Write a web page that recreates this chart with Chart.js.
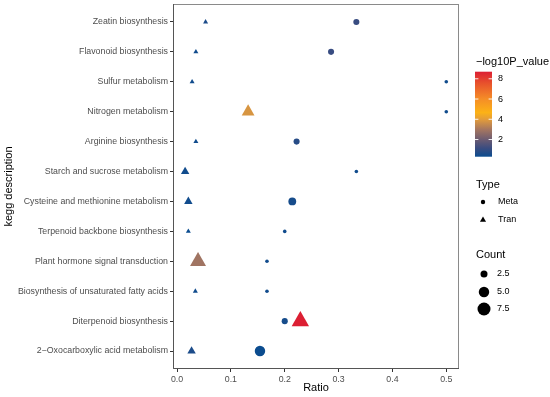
<!DOCTYPE html>
<html>
<head>
<meta charset="utf-8">
<script src="https://cdn.jsdelivr.net/npm/chart.js@4"></script>
<style>
    html, body { margin: 0; padding: 0; background: #ffffff; }
    #wrap { width: 550px; height: 397px; }
</style>
</head>
<body>
<div id="wrap"><canvas id="keggChart" width="550" height="397"></canvas></div>
<script>
// =====================================
// Data
// =====================================
const categories = [
    "Zeatin biosynthesis",
    "Flavonoid biosynthesis",
    "Sulfur metabolism",
    "Nitrogen metabolism",
    "Arginine biosynthesis",
    "Starch and sucrose metabolism",
    "Cysteine and methionine metabolism",
    "Terpenoid backbone biosynthesis",
    "Plant hormone signal transduction",
    "Biosynthesis of unsaturated fatty acids",
    "Diterpenoid biosynthesis",
    "2\u2212Oxocarboxylic acid metabolism"
];

// Meta (circles)
const metaRatio = [0.333, 0.286, 0.5, 0.5, 0.222, 0.333, 0.214, 0.2, 0.167, 0.167, 0.2, 0.154];
const metaCount = [2, 2, 1, 1, 2, 1, 3, 1, 1, 1, 2, 5];
const metaLogP  = [1.1, 1.1, 0.4, 0.4, 0.8, 0.4, 0.5, 0.4, 0.4, 0.4, 0.5, 0.3];

// Tran (triangles)
const tranRatio = [0.053, 0.035, 0.028, 0.132, 0.035, 0.015, 0.021, 0.021, 0.039, 0.034, 0.229, 0.027];
const tranCount = [1, 1, 1, 4, 1, 2, 2, 1, 6, 1, 7, 2];
const tranLogP  = [0.6, 0.4, 0.4, 3.8, 0.4, 0.4, 0.4, 0.3, 2.9, 0.4, 8.7, 0.6];

const xTicks = [0.0, 0.1, 0.2, 0.3, 0.4, 0.5];
const colourTicks = [2, 4, 6, 8];
const countTicks = [2.5, 5.0, 7.5];
const typeLabels = ["Meta", "Tran"];

// =====================================
// Styling helpers
// =====================================
const FONT = "'Liberation Sans', Arial, Helvetica, sans-serif";
const allLogP = metaLogP.concat(tranLogP);
const vMin = Math.min(...allLogP);
const vMax = Math.max(...allLogP);

// colour stops along the colourbar (fraction 0 = bottom, 1 = top)
const colourStops = [
    [0.00, "#0b4c8f"],
    [0.10, "#3a4c80"],
    [0.20, "#6b5b72"],
    [0.32, "#a57660"],
    [0.44, "#e39c3a"],
    [0.52, "#fcb216"],
    [0.68, "#f58d27"],
    [0.86, "#e8532c"],
    [1.00, "#dc1f33"]
];

function hexToRgb(h) {
    return [parseInt(h.slice(1, 3), 16), parseInt(h.slice(3, 5), 16), parseInt(h.slice(5, 7), 16)];
}

function colourFor(v) {
    const f = Math.max(0, Math.min(1, (v - vMin) / (vMax - vMin)));
    for (let i = 1; i < colourStops.length; i++) {
        const [f1, c1] = colourStops[i];
        const [f0, c0] = colourStops[i - 1];
        if (f <= f1) {
            const t = (f - f0) / (f1 - f0);
            const a = hexToRgb(c0), b = hexToRgb(c1);
            const m = a.map((x, k) => Math.round(x + (b[k] - x) * t));
            return `rgb(${m[0]},${m[1]},${m[2]})`;
        }
    }
    return colourStops[colourStops.length - 1][1];
}

// point size: area grows linearly with count
function radiusFor(count) {
    return Math.sqrt(Math.max(2, 6 * count - 2.75));
}
const TRI_SCALE = 1.6;

const metaPoints = metaRatio.map((r, i) => ({ x: r, y: i }));
const tranPoints = tranRatio.map((r, i) => ({ x: r, y: i }));

// =====================================
// Panel border + legends plugin
// =====================================
const panelAndLegends = {
    id: "panelAndLegends",
    afterDraw(chart) {
        const ctx = chart.ctx;
        const a = chart.chartArea;
        ctx.save();

        // panel border
        ctx.strokeStyle = "#8a8a8a";
        ctx.lineWidth = 1;
        ctx.strokeRect(Math.round(a.left) + 0.5, Math.round(a.top) + 0.5,
                       Math.round(a.right - a.left) - 1, Math.round(a.bottom - a.top) - 1);
        ctx.strokeStyle = "#555555";
        ctx.beginPath();
        ctx.moveTo(Math.round(a.left) + 0.5, Math.round(a.top));
        ctx.lineTo(Math.round(a.left) + 0.5, Math.round(a.bottom) - 0.5);
        ctx.lineTo(Math.round(a.right), Math.round(a.bottom) - 0.5);
        ctx.stroke();

        ctx.fillStyle = "#000000";
        ctx.textBaseline = "middle";
        ctx.textAlign = "left";

        // ---- colourbar ----
        const lx = 476;
        ctx.font = `11px ${FONT}`;
        ctx.fillText("\u2212log10P_value", lx, 62);

        const barX = 475, barW = 17, barTop = 71.7, barBot = 156.7;
        const grad = ctx.createLinearGradient(0, barBot, 0, barTop);
        colourStops.forEach(([f, c]) => grad.addColorStop(f, c));
        ctx.fillStyle = grad;
        ctx.fillRect(barX, barTop, barW, barBot - barTop);

        ctx.font = `9px ${FONT}`;
        colourTicks.forEach(v => {
            const y = barBot - (v - vMin) / (vMax - vMin) * (barBot - barTop);
            ctx.strokeStyle = "rgba(255,255,255,0.9)";
            ctx.beginPath();
            ctx.moveTo(barX, y); ctx.lineTo(barX + 3.4, y);
            ctx.moveTo(barX + barW - 3.4, y); ctx.lineTo(barX + barW, y);
            ctx.stroke();
            ctx.fillStyle = "#000000";
            ctx.fillText(String(v), 498, y);
        });

        // ---- Type legend ----
        ctx.font = `11px ${FONT}`;
        ctx.fillText("Type", lx, 185);
        ctx.font = `9px ${FONT}`;
        const typeY = [202, 220];
        typeLabels.forEach((lab, i) => {
            ctx.fillStyle = "#000000";
            ctx.beginPath();
            if (i === 0) {
                ctx.arc(483, typeY[i], 2.2, 0, Math.PI * 2);
            } else {
                const r = 2.2 * TRI_SCALE;
                ctx.moveTo(483, typeY[i] - r);
                ctx.lineTo(483 + r * 0.866, typeY[i] + r / 2);
                ctx.lineTo(483 - r * 0.866, typeY[i] + r / 2);
                ctx.closePath();
            }
            ctx.fill();
            ctx.fillText(lab, 498, typeY[i]);
        });

        // ---- Count legend ----
        ctx.font = `11px ${FONT}`;
        ctx.fillText("Count", lx, 255);
        ctx.font = `9px ${FONT}`;
        const countY = [274, 292, 309];
        countTicks.forEach((c, i) => {
            ctx.beginPath();
            ctx.arc(484, countY[i], radiusFor(c), 0, Math.PI * 2);
            ctx.fill();
            ctx.fillText(c.toFixed(1), 497, countY[i]);
        });

        ctx.restore();
    }
};

// =====================================
// Chart
// =====================================
const tickFont = { family: FONT, size: 8.8 };
const titleFont = { family: FONT, size: 11 };

function noEdgePadding(s) {
    s.paddingTop = 0;
    s.paddingBottom = 0;
    s.paddingLeft = 0;
    s.paddingRight = 0;
}

new Chart(document.getElementById("keggChart").getContext("2d"), {
    type: "scatter",
    data: {
        datasets: [
            {
                label: "Meta",
                data: metaPoints,
                pointStyle: "circle",
                pointRadius: c => radiusFor(metaCount[c.dataIndex]),
                pointBackgroundColor: c => colourFor(metaLogP[c.dataIndex]),
                pointBorderWidth: 0,
                pointBorderColor: "rgba(0,0,0,0)"
            },
            {
                label: "Tran",
                data: tranPoints,
                pointStyle: "triangle",
                pointRadius: c => radiusFor(tranCount[c.dataIndex]) * TRI_SCALE,
                pointBackgroundColor: c => colourFor(tranLogP[c.dataIndex]),
                pointBorderWidth: 0,
                pointBorderColor: "rgba(0,0,0,0)"
            }
        ]
    },
    options: {
        responsive: false,
        animation: false,
        events: [],
        layout: { autoPadding: false, padding: { top: 4, right: 91, left: 0, bottom: 0 } },
        plugins: {
            legend: { display: false },
            tooltip: { enabled: false }
        },
        scales: {
            x: {
                type: "linear",
                min: -0.0075,
                max: 0.5236,
                afterBuildTicks: s => { s.ticks = xTicks.map(v => ({ value: v })); },
                afterFit: s => { s.height = 28; noEdgePadding(s); },
                ticks: {
                    callback: v => Number(v).toFixed(1),
                    color: "#4d4d4d",
                    font: tickFont,
                    padding: 2,
                    maxRotation: 0
                },
                grid: { drawOnChartArea: false, tickLength: 3, color: "#333333" },
                border: { display: false },
                title: {
                    display: true,
                    text: "Ratio",
                    color: "#000000",
                    font: titleFont,
                    padding: { top: 0, bottom: 2 }
                }
            },
            y: {
                type: "linear",
                reverse: true,
                min: -0.6,
                max: 11.6,
                afterBuildTicks: s => { s.ticks = categories.map((_, i) => ({ value: i })); },
                afterFit: s => { s.width = 173; noEdgePadding(s); },
                ticks: {
                    callback: v => categories[v],
                    color: "#4d4d4d",
                    font: tickFont,
                    padding: 2,
                    autoSkip: false
                },
                grid: { drawOnChartArea: false, tickLength: 3, color: "#333333" },
                border: { display: false },
                title: {
                    display: true,
                    text: "kegg description",
                    color: "#000000",
                    font: titleFont,
                    padding: { top: 2, bottom: 0 }
                }
            }
        }
    },
    plugins: [panelAndLegends]
});
</script>
</body>
</html>
